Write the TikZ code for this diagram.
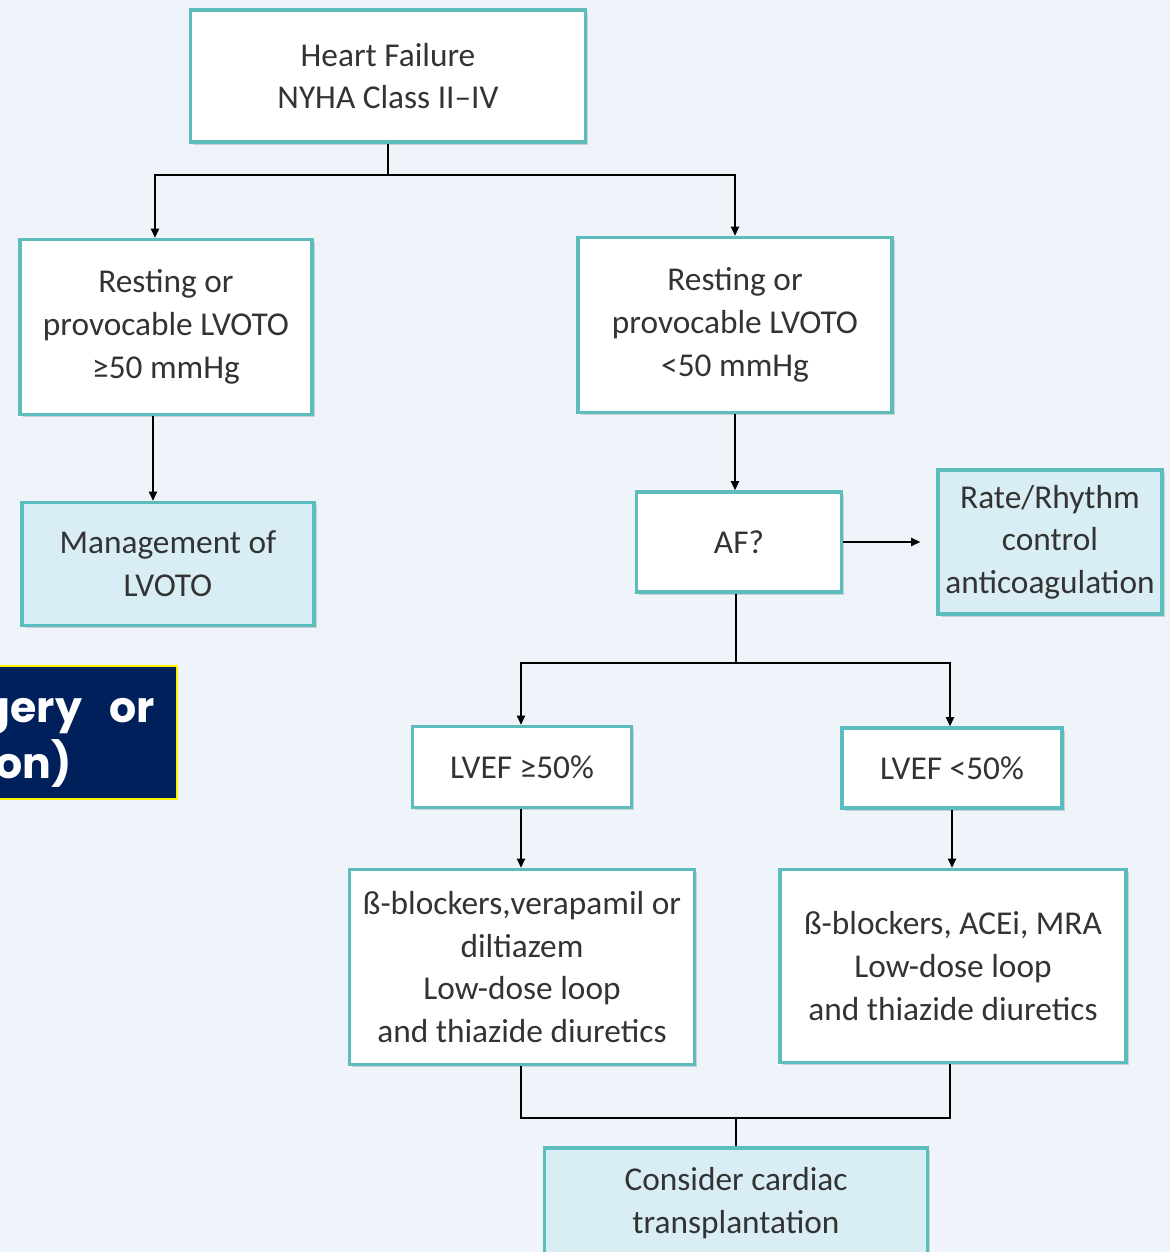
\documentclass[tikz,border=0pt]{standalone}
\usepackage{fontspec}
\setmainfont{Carlito}
\newfontfamily\boldsans{Poppins}
\usetikzlibrary{arrows.meta,shadows}
\definecolor{bgc}{HTML}{EEF4FA}
\definecolor{teal}{HTML}{5DBDBD}
\definecolor{lblue}{HTML}{D8EEF4}
\definecolor{navy}{HTML}{00205B}
\tikzset{
  box/.style 2 args={draw=teal, line width=2.4pt, minimum width=#1*0.75pt, minimum height=#2*0.75pt,
     align=center, inner sep=0pt, font=\fontsize{25}{32}\selectfont, text=black!80,
     drop shadow={shadow xshift=2pt, shadow yshift=-2pt, opacity=0.25, fill=black!60}},
  wbox/.style 2 args={box={#1}{#2}, fill=white},
  bbox/.style 2 args={box={#1}{#2}, fill=lblue},
  conn/.style={line width=1.6pt, black},
  arr/.style={conn, -{Triangle[length=7pt,width=6pt]}},
}
\begin{document}
\begin{tikzpicture}[x=0.75pt,y=-0.75pt]
\fill[bgc] (0,0) rectangle (1170,1252);
\useasboundingbox (0,0) rectangle (1170,1252);
% nodes
\node[wbox={395}{132}] (top) at (388,76) {Heart Failure\\NYHA Class II–IV};
\node[wbox={292}{175}] (l1) at (166,327) {Resting or\\provocable LVOTO\\≥50 mmHg};
\node[wbox={314}{175}] (r1) at (735,325) {Resting or\\provocable LVOTO\\<50 mmHg};
\node[bbox={292}{123}] (mg) at (168,564) {Management of\\LVOTO};
\node[wbox={205}{100}] (af) at (739,542) {AF?};
\node[bbox={224}{144}] (rr) at (1050,542) {Rate/Rhythm\\control\\anticoagulation};
\node[wbox={219}{81}] (lv1) at (522,767) {LVEF ≥50\%};
\node[wbox={220}{80}] (lv2) at (952,768) {LVEF <50\%};
\node[wbox={345}{195}] (bl) at (522,967) {ß-blockers,verapamil or\\diltiazem\\Low-dose loop\\and thiazide diuretics};
\node[wbox={346}{193}] (br) at (953,966) {ß-blockers, ACEi, MRA\\Low-dose loop\\and thiazide diuretics};
\node[bbox={383}{110}] (ct) at (736,1203) {Consider cardiac\\transplantation};
% connectors
\coordinate (j1) at (388,175);
\draw[conn] (top.south) -- (j1);
\draw[arr] (j1) -| (l1.north -| 155,0);
\draw[arr] (j1) -| (r1.north);
\draw[arr] (l1.south -| 153,0) -- (mg.north -| 153,0);
\draw[arr] (r1.south) -- (af.north -| r1.south);
\draw[arr, shorten >=16pt*0.75] (af.east) -- (rr.west |- af.east);
\coordinate (j2) at (736,663);
\draw[conn] (af.south -| j2) -- (j2);
\draw[arr] (j2) -| (lv1.north -| 521,0);
\draw[arr] (j2) -| (lv2.north -| 950,0);
\draw[arr] (lv1.south -| 521,0) -- (bl.north -| 521,0);
\draw[arr] (lv2.south) -- (br.north -| lv2.south);
\coordinate (j3) at (736,1118);
\draw[conn] (bl.south -| 521,0) |- (j3);
\draw[conn] (br.south -| 950,0) |- (j3);
\draw[conn] (j3) -- (ct.north);
% dark box
\begin{scope}
\clip (0,665) rectangle (178,800);
\fill[navy] (0,665) rectangle (178,800);
\node[anchor=base east, text=white, font=\boldsans\bfseries\fontsize{32}{40}\selectfont, inner sep=0pt] (t1) at (155,722) {gery\ \ \ or};
\node[anchor=base east, text=white, font=\boldsans\bfseries\fontsize{32}{40}\selectfont, inner sep=0pt] (t2) at (72,778) {on)};
\end{scope}
\draw[yellow, line width=2pt] (-2,666) -- (177,666) -- (177,799) -- (-2,799);
\end{tikzpicture}
\end{document}
